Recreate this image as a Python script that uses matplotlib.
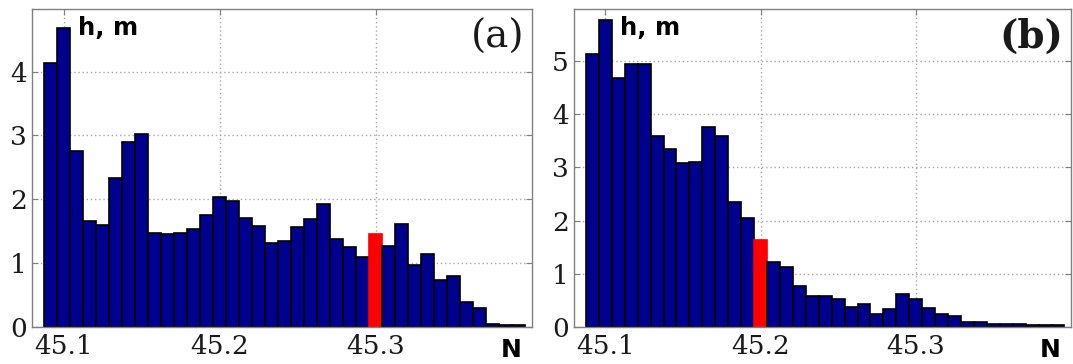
import numpy as np
import matplotlib.pyplot as plt

# Bin layout (degrees N): 37 bins of width 1/120 starting at 45.0875
bin_start = 45.0875
bin_width = 1.0 / 120
n_bins = 37

# Panel (a) heights, m
h_a = [4.14, 4.69, 2.75, 1.66, 1.59, 2.33, 2.90, 3.03, 1.47, 1.45,
       1.47, 1.54, 1.76, 2.03, 1.97, 1.70, 1.58, 1.32, 1.35, 1.57,
       1.69, 1.92, 1.38, 1.25, 1.10, 1.45, 1.27, 1.61, 0.97, 1.14,
       0.73, 0.79, 0.39, 0.29, 0.05, 0.03, 0.03]
red_a = 25

# Panel (b) heights, m
h_b = [5.13, 5.78, 4.68, 4.94, 4.94, 3.59, 3.35, 3.08, 3.11, 3.77,
       3.60, 2.35, 2.05, 1.64, 1.22, 1.13, 0.77, 0.58, 0.57, 0.53,
       0.38, 0.43, 0.23, 0.33, 0.61, 0.52, 0.36, 0.24, 0.21, 0.08,
       0.08, 0.06, 0.05, 0.05, 0.04, 0.03, 0.03]
red_b = 13

xticks = [45.1, 45.2, 45.3]
xtick_labels = ['45.1', '45.2', '45.3']
yticks_a = [0, 1, 2, 3, 4]
yticks_b = [0, 1, 2, 3, 4, 5]

centers = bin_start + bin_width * (np.arange(n_bins) + 0.5)

navy = '#00008F'
serif = 'DejaVu Serif'

fig = plt.figure(figsize=(10.73, 3.64), dpi=100)
ax_a = fig.add_axes([0.0301, 0.1025, 0.4654, 0.872])
ax_b = fig.add_axes([0.5352, 0.1025, 0.4629, 0.872])


def draw_panel(ax, heights, red_idx, yticks, ytop, tag, tag_weight):
    colors = [navy] * n_bins
    colors[red_idx] = '#FF0000'
    edges = ['black'] * n_bins
    edges[red_idx] = '#FF0000'
    ax.bar(centers, heights, width=bin_width, color=colors,
           edgecolor=edges, linewidth=1.2, zorder=2)
    ax.set_xlim(45.08, 45.40)
    ax.set_ylim(0, ytop)
    ax.set_xticks(xticks)
    ax.set_xticklabels(xtick_labels)
    ax.set_yticks(yticks)
    ax.set_axisbelow(True)
    ax.grid(True, linestyle=(0, (1, 2)), color='#a8a8a8', linewidth=1.0)
    for s in ax.spines.values():
        s.set_color('#808080')
        s.set_linewidth(1.0)
    ax.tick_params(direction='in', length=4, width=0.8, color='#808080',
                   top=True, right=True, labelsize=19, labelcolor='#1a1a1a')
    ax.tick_params(axis='x', pad=5)
    ax.tick_params(axis='y', pad=4)
    for lab in ax.get_xticklabels() + ax.get_yticklabels():
        lab.set_fontfamily(serif)
    ax.text(0.092, 0.919, 'h, m', transform=ax.transAxes, fontsize=17.5,
            fontweight='bold', family='DejaVu Sans', ha='left',
            va='baseline', color='black')
    ax.text(0.985, 0.879, tag, transform=ax.transAxes, fontsize=28,
            fontweight=tag_weight, family=serif, ha='right',
            va='baseline', color='#1a1a1a')
    ax.text(0.9586, -0.0955, 'N', transform=ax.transAxes, fontsize=18,
            fontweight='bold', family='DejaVu Sans', ha='center',
            va='baseline', color='black')


draw_panel(ax_a, h_a, red_a, yticks_a, 4.98, '(a)', 'normal')
draw_panel(ax_b, h_b, red_b, yticks_b, 5.98, '(b)', 'bold')

fig.savefig('out.png', dpi=100)
